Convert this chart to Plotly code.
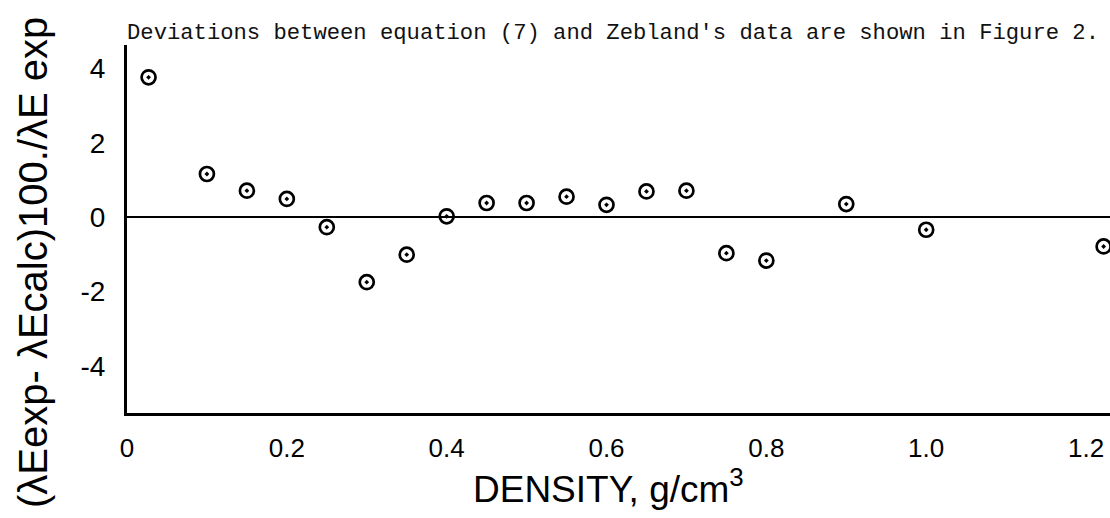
import plotly.graph_objects as go

# ---- data ----
density = [0.027, 0.10, 0.15, 0.20, 0.25, 0.30, 0.35, 0.40, 0.45, 0.50,
           0.55, 0.60, 0.65, 0.70, 0.75, 0.80, 0.90, 1.00, 1.222]
deviation = [3.76, 1.16, 0.71, 0.49, -0.27, -1.75, -1.01, 0.02, 0.38, 0.38,
             0.55, 0.33, 0.69, 0.71, -0.97, -1.17, 0.35, -0.34, -0.79]

x_tick_vals = [0, 0.2, 0.4, 0.6, 0.8, 1.0, 1.2]
x_tick_text = ["0", "0.2", "0.4", "0.6", "0.8", "1.0", "1.2"]
y_tick_vals = [4, 2, 0, -2, -4]
y_tick_text = ["4", "2", "0", "-2", "-4"]

note_text = "Deviations between equation (7) and Zebland's data are shown in Figure 2."
x_title = "DENSITY, g/cm<sup>3</sup>"
y_title = "(λEexp- λEcalc)100./λE exp"

W, H = 1110, 518
ML, MR, MT, MB = 127, 0, 45, 105
PW, PH = W - ML - MR, H - MT - MB


def px_x(px):
    return (px - ML) / PW


def px_y(py):
    return (H - MB - py) / PH


fig = go.Figure()
fig.add_trace(go.Scatter(
    x=density, y=deviation, mode="markers",
    marker=dict(symbol="circle-open-dot", size=14, color="black",
                line=dict(width=2.7, color="black")),
    cliponaxis=False, showlegend=False,
))

sans = "Liberation Sans"
fig.update_layout(
    width=W, height=H,
    margin=dict(l=ML, r=MR, t=MT, b=MB, autoexpand=False),
    paper_bgcolor="white", plot_bgcolor="white",
    xaxis=dict(
        range=[0, 1.23], showgrid=False, zeroline=False,
        showline=True, linecolor="black", linewidth=2.5,
        tickmode="array", tickvals=x_tick_vals, ticktext=x_tick_text,
        ticks="", ticklabelstandoff=10,
        tickfont=dict(family=sans, size=26, color="black"),
        automargin=False,
    ),
    yaxis=dict(
        range=[-5.27, 4.63], showgrid=False,
        zeroline=True, zerolinecolor="black", zerolinewidth=2,
        showline=True, linecolor="black", linewidth=3,
        tickmode="array", tickvals=y_tick_vals, ticktext=y_tick_text,
        ticks="", ticklabelstandoff=13,
        tickfont=dict(family=sans, size=28, color="black"),
        automargin=False,
    ),
    annotations=[
        dict(text=note_text, xref="paper", yref="paper",
             x=px_x(125), y=px_y(33), xanchor="left", yanchor="middle",
             showarrow=False,
             font=dict(family="Liberation Mono", size=22.2, color="#111")),
        dict(text=x_title, xref="paper", yref="paper",
             x=px_x(608), y=px_y(461), xanchor="center", yanchor="top",
             showarrow=False,
             font=dict(family=sans, size=37, color="black")),
        dict(text=y_title, xref="paper", yref="paper", textangle=-90,
             x=px_x(33), y=px_y(263), xanchor="center", yanchor="middle",
             showarrow=False,
             font=dict(family=sans, size=40, color="black")),
    ],
)

fig.write_html(
    "out.html",
    config={"displayModeBar": False},
    post_script="document.body.style.margin='0';document.body.style.overflow='hidden';",
)
